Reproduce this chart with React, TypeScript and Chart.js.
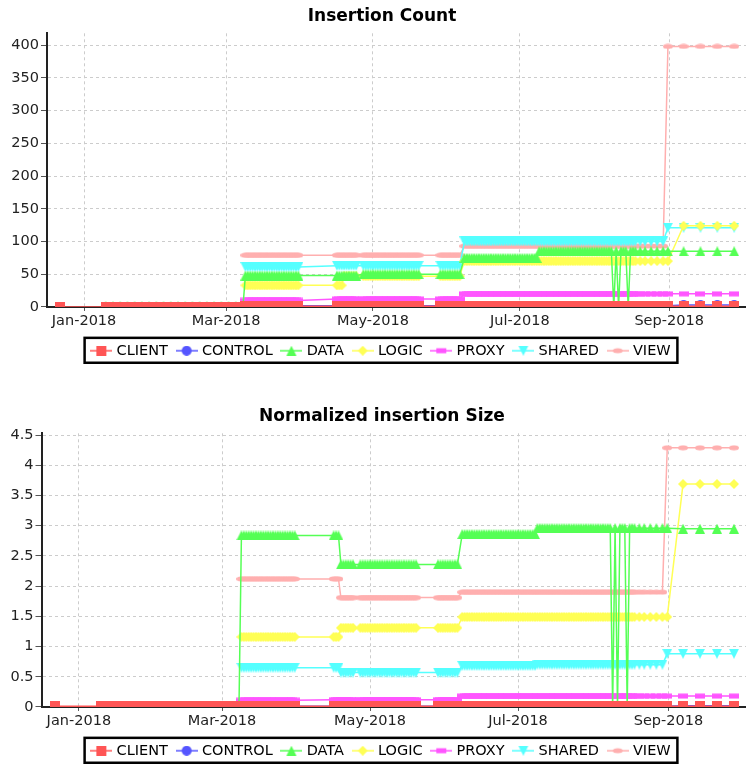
import React, { useEffect, useRef } from "react";
import { Chart, registerables } from "chart.js";

Chart.register(...registerables);

const FONT = "'DejaVu Sans', sans-serif";

const SERIES_NAMES = ["CLIENT", "CONTROL", "DATA", "LOGIC", "PROXY", "SHARED", "VIEW"];
const SERIES_COLORS = ["#FF5555", "#5555FF", "#55FF55", "#FFFF55", "#FF55FF", "#55FFFF", "#FFAFAF"];
const SERIES_SHAPES = ["square", "circle", "triangleUp", "diamond", "hRect", "triangleDown", "hEllipse"];

// sample dates, in days since 2018-01-01
const DAYS = [
  -10,
  9, 12, 15, 18, 21, 24, 27, 30, 33, 36, 39, 42, 45, 48, 51, 54, 57, 60, 63, 66,
  67, 68, 69, 70, 71, 72, 73, 74, 75, 76, 77, 78, 79, 80, 81, 82, 83, 84, 85, 86, 87, 88, 89,
  105, 106, 107, 108, 109, 110, 111, 112, 113,
  116, 117, 118, 119, 120, 121, 122, 123, 124, 125, 126, 127, 128, 129, 130, 131, 132, 133, 134, 135, 136, 137, 138, 139,
  148, 149, 150, 151, 152, 153, 154, 155, 156,
  158, 159, 160, 161, 162, 163, 164, 165, 166, 167, 168, 169, 170, 171, 172, 173, 174, 175, 176, 177, 178, 179, 180, 181, 182, 183, 184, 185, 186, 187, 188,
  189, 190, 191, 192, 193, 194, 195, 196, 197, 198, 199, 200, 201, 202, 203, 204, 205, 206, 207, 208, 209, 210, 211, 212, 213, 214, 215, 216, 217, 218, 219, 220, 221, 222, 223, 224, 225, 226, 227, 228, 229,
  231, 233, 235.5, 238, 240.5, 242.5,
  249, 256, 263, 270,
];

const X_TICK_DAYS = [0, 59, 120, 181, 243];
const X_TICK_LABELS = ["Jan-2018", "Mar-2018", "May-2018", "Jul-2018", "Sep-2018"];
const COUNT_TICKS = [0, 50, 100, 150, 200, 250, 300, 350, 400];
const SIZE_TICKS = [0, 0.5, 1, 1.5, 2, 2.5, 3, 3.5, 4, 4.5];

const N = null;

// ---------- Insertion Count ----------
const CLIENT_COUNT = [
  0,
  0,0,0,0,0,0,0,0,0,0, 0,0,0,0,0,0,0,0,0,0,
  1,1,1,1,1,1,1,1,1,1, 1,1,1,1,1,1,1,1,1,1, 1,1,1,
  1,1,1,1,1,1,1,1,1,
  1,1,1,1,1,1,1,1,1,1, 1,1,1,1,1,1,1,1,1,1, 1,1,1,1,
  1,1,1,1,1,1,1,1,1,
  1,1,1,1,1,1,1,1,1,1, 1,1,1,1,1,1,1,1,1,1, 1,1,1,1,1,1,1,1,1,1, 1,
  1,1,1,1,1,1,1,1,1,1, 1,1,1,1,1,1,1,1,1,1, 1,1,1,1,1,1,1,1,1,1, 1,1,1,1,1,1,1,1,1,1, 1,
  1,1,1,1,1,1,
  1,1,1,1,
];
const CONTROL_COUNT = [
  N,
  N,N,N,N,N,N,N,N,N,N, N,N,N,N,N,N,N,N,N,N,
  2,2,2,2,2,2,2,2,2,2, 2,2,2,2,2,2,2,2,2,2, 2,2,2,
  2,2,2,2,2,2,2,2,2,
  2,2,2,2,2,2,2,2,2,2, 2,2,2,2,2,2,2,2,2,2, 2,2,2,2,
  2,2,2,2,2,2,2,2,2,
  2,2,2,2,2,2,2,2,2,2, 2,2,2,2,2,2,2,2,2,2, 2,2,2,2,2,2,2,2,2,2, 2,
  2,2,2,2,2,2,2,2,2,2, 2,2,2,2,2,2,2,2,2,2, 2,2,2,2,2,2,2,2,2,2, 2,2,2,2,2,2,2,2,2,2, 2,
  2,2,2,2,2,2,
  3,3,3,3,
];
const DATA_COUNT = [
  N,
  1,1,1,1,1,1,1,1,1,1, 1,1,1,1,1,1,1,1,1,1,
  48,48,48,48,48,48,48,48,48,48, 48,48,48,48,48,48,48,48,48,48, 48,48,48,
  48,48,48,48,48,48,48,48,48,
  50,50,50,50,50,50,50,50,50,50, 50,50,50,50,50,50,50,50,50,50, 50,50,50,50,
  50,50,50,50,50,50,50,50,50,
  75,75,75,75,75,75,75,75,75,75, 75,75,75,75,75,75,75,75,75,75, 75,75,75,75,75,75,75,75,75,75, 75,
  85,85,85,85,85,85,85,85,85,85, 85,85,85,85,85,85,85,85,85,85, 85,85,85,85,85,85,85,85,85,85, 85,0,85,0,85,85,85,0,85,85, 85,
  85,85,85,85,85,85,
  85,85,85,85,
];
const LOGIC_COUNT = [
  N,
  N,N,N,N,N,N,N,N,N,N, N,N,N,N,N,N,N,N,N,N,
  33,33,33,33,33,33,33,33,33,33, 33,33,33,33,33,33,33,33,33,33, 33,33,33,
  33,33,33,47,47,47,47,47,47,
  47,47,47,47,47,47,47,47,47,47, 47,47,47,47,47,47,47,47,47,47, 47,47,47,47,
  47,47,47,47,47,47,47,47,47,
  70,70,70,70,70,70,70,70,70,70, 70,70,70,70,70,70,70,70,70,70, 70,70,70,70,70,70,70,70,70,70, 70,
  70,70,70,70,70,70,70,70,70,70, 70,70,70,70,70,70,70,70,70,70, 70,70,70,70,70,70,70,70,70,70, 70,70,70,70,70,70,70,70,70,70, 70,
  70,70,70,70,70,70,
  124,124,124,124,
];
const PROXY_COUNT = [
  N,
  N,N,N,N,N,N,N,N,N,N, N,N,N,N,N,N,N,N,N,N,
  10,10,10,10,10,10,10,10,10,10, 10,10,10,10,10,10,10,10,10,10, 10,10,10,
  12,12,12,12,12,12,12,12,12,
  12,12,12,12,12,12,12,12,12,12, 12,12,12,12,12,12,12,12,12,12, 12,12,12,12,
  12,12,12,12,12,12,12,12,12,
  20,20,20,20,20,20,20,20,20,20, 20,20,20,20,20,20,20,20,20,20, 20,20,20,20,20,20,20,20,20,20, 20,
  20,20,20,20,20,20,20,20,20,20, 20,20,20,20,20,20,20,20,20,20, 20,20,20,20,20,20,20,20,20,20, 20,20,20,20,20,20,20,20,20,20, 20,
  20,20,20,20,20,20,
  20,20,20,20,
];
const SHARED_COUNT = [
  N,
  N,N,N,N,N,N,N,N,N,N, N,N,N,N,N,N,N,N,N,N,
  61,61,61,61,61,61,61,61,61,61, 61,61,61,61,61,61,61,61,61,61, 61,61,61,
  63,63,63,63,63,63,63,63,63,
  63,63,63,63,63,63,63,63,63,63, 63,63,63,63,63,63,63,63,63,63, 63,63,63,63,
  63,63,63,63,63,63,63,63,63,
  100,100,100,100,100,100,100,100,100,100, 100,100,100,100,100,100,100,100,100,100, 100,100,100,100,100,100,100,100,100,100, 100,
  100,100,100,100,100,100,100,100,100,100, 100,100,100,100,100,100,100,100,100,100, 100,100,100,100,100,100,100,100,100,100, 100,100,100,100,100,100,100,100,100,100, 100,
  100,100,100,100,100,121,
  121,121,121,121,
];
const VIEW_COUNT = [
  N,
  N,N,N,N,N,N,N,N,N,N, N,N,N,N,N,N,N,N,N,N,
  79,79,79,79,79,79,79,79,79,79, 79,79,79,79,79,79,79,79,79,79, 79,79,79,
  79,79,79,79,79,79,79,79,79,
  79,79,79,79,79,79,79,79,79,79, 79,79,79,79,79,79,79,79,79,79, 79,79,79,79,
  79,79,79,79,79,79,79,79,79,
  93,93,93,93,93,93,93,93,93,93, 93,93,93,93,93,93,93,93,93,93, 93,93,93,93,93,93,93,93,93,93, 93,
  93,93,93,93,93,93,93,93,93,93, 93,93,93,93,93,93,93,93,93,93, 93,93,93,93,93,93,93,93,93,93, 93,93,93,93,93,93,93,93,93,93, 93,
  93,93,93,93,93,398,
  398,398,398,398,
];

// ---------- Normalized insertion Size ----------
const CLIENT_SIZE = [
  0.01,
  0.01,0.01,0.01,0.01,0.01,0.01,0.01,0.01,0.01,0.01, 0.01,0.01,0.01,0.01,0.01,0.01,0.01,0.01,0.01,0.01,
  0.01,0.01,0.01,0.01,0.01,0.01,0.01,0.01,0.01,0.01, 0.01,0.01,0.01,0.01,0.01,0.01,0.01,0.01,0.01,0.01, 0.01,0.01,0.01,
  0.01,0.01,0.01,0.01,0.01,0.01,0.01,0.01,0.01,
  0.01,0.01,0.01,0.01,0.01,0.01,0.01,0.01,0.01,0.01, 0.01,0.01,0.01,0.01,0.01,0.01,0.01,0.01,0.01,0.01, 0.01,0.01,0.01,0.01,
  0.01,0.01,0.01,0.01,0.01,0.01,0.01,0.01,0.01,
  0.01,0.01,0.01,0.01,0.01,0.01,0.01,0.01,0.01,0.01, 0.01,0.01,0.01,0.01,0.01,0.01,0.01,0.01,0.01,0.01, 0.01,0.01,0.01,0.01,0.01,0.01,0.01,0.01,0.01,0.01, 0.01,
  0.01,0.01,0.01,0.01,0.01,0.01,0.01,0.01,0.01,0.01, 0.01,0.01,0.01,0.01,0.01,0.01,0.01,0.01,0.01,0.01, 0.01,0.01,0.01,0.01,0.01,0.01,0.01,0.01,0.01,0.01, 0.01,0.01,0.01,0.01,0.01,0.01,0.01,0.01,0.01,0.01, 0.01,
  0.01,0.01,0.01,0.01,0.01,0.01,
  0.01,0.01,0.01,0.01,
];
const CONTROL_SIZE = [
  N,
  N,N,N,N,N,N,N,N,N,N, N,N,N,N,N,N,N,N,N,N,
  0.01,0.01,0.01,0.01,0.01,0.01,0.01,0.01,0.01,0.01, 0.01,0.01,0.01,0.01,0.01,0.01,0.01,0.01,0.01,0.01, 0.01,0.01,0.01,
  0.01,0.01,0.01,0.01,0.01,0.01,0.01,0.01,0.01,
  0.01,0.01,0.01,0.01,0.01,0.01,0.01,0.01,0.01,0.01, 0.01,0.01,0.01,0.01,0.01,0.01,0.01,0.01,0.01,0.01, 0.01,0.01,0.01,0.01,
  0.01,0.01,0.01,0.01,0.01,0.01,0.01,0.01,0.01,
  0.01,0.01,0.01,0.01,0.01,0.01,0.01,0.01,0.01,0.01, 0.01,0.01,0.01,0.01,0.01,0.01,0.01,0.01,0.01,0.01, 0.01,0.01,0.01,0.01,0.01,0.01,0.01,0.01,0.01,0.01, 0.01,
  0.01,0.01,0.01,0.01,0.01,0.01,0.01,0.01,0.01,0.01, 0.01,0.01,0.01,0.01,0.01,0.01,0.01,0.01,0.01,0.01, 0.01,0.01,0.01,0.01,0.01,0.01,0.01,0.01,0.01,0.01, 0.01,0.01,0.01,0.01,0.01,0.01,0.01,0.01,0.01,0.01, 0.01,
  0.01,0.01,0.01,0.01,0.01,0.01,
  0.02,0.02,0.02,0.02,
];
const DATA_SIZE = [
  N,
  0.02,0.02,0.02,0.02,0.02,0.02,0.02,0.02,0.02,0.02, 0.02,0.02,0.02,0.02,0.02,0.02,0.02,0.02,0.02,0.02,
  2.84,2.84,2.84,2.84,2.84,2.84,2.84,2.84,2.84,2.84, 2.84,2.84,2.84,2.84,2.84,2.84,2.84,2.84,2.84,2.84, 2.84,2.84,2.84,
  2.84,2.84,2.84,2.36,2.36,2.36,2.36,2.36,2.36,
  2.36,2.36,2.36,2.36,2.36,2.36,2.36,2.36,2.36,2.36, 2.36,2.36,2.36,2.36,2.36,2.36,2.36,2.36,2.36,2.36, 2.36,2.36,2.36,2.36,
  2.36,2.36,2.36,2.36,2.36,2.36,2.36,2.36,2.36,
  2.86,2.86,2.86,2.86,2.86,2.86,2.86,2.86,2.86,2.86, 2.86,2.86,2.86,2.86,2.86,2.86,2.86,2.86,2.86,2.86, 2.86,2.86,2.86,2.86,2.86,2.86,2.86,2.86,2.86,2.86, 2.86,
  2.96,2.96,2.96,2.96,2.96,2.96,2.96,2.96,2.96,2.96, 2.96,2.96,2.96,2.96,2.96,2.96,2.96,2.96,2.96,2.96, 2.96,2.96,2.96,2.96,2.96,2.96,2.96,2.96,2.96,2.96, 2.96,0,2.96,0,2.96,2.96,2.96,0,2.96,2.96, 2.96,
  2.96,2.96,2.96,2.96,2.96,2.96,
  2.95,2.95,2.95,2.95,
];
const LOGIC_SIZE = [
  N,
  N,N,N,N,N,N,N,N,N,N, N,N,N,N,N,N,N,N,N,N,
  1.16,1.16,1.16,1.16,1.16,1.16,1.16,1.16,1.16,1.16, 1.16,1.16,1.16,1.16,1.16,1.16,1.16,1.16,1.16,1.16, 1.16,1.16,1.16,
  1.16,1.16,1.16,1.31,1.31,1.31,1.31,1.31,1.31,
  1.31,1.31,1.31,1.31,1.31,1.31,1.31,1.31,1.31,1.31, 1.31,1.31,1.31,1.31,1.31,1.31,1.31,1.31,1.31,1.31, 1.31,1.31,1.31,1.31,
  1.31,1.31,1.31,1.31,1.31,1.31,1.31,1.31,1.31,
  1.49,1.49,1.49,1.49,1.49,1.49,1.49,1.49,1.49,1.49, 1.49,1.49,1.49,1.49,1.49,1.49,1.49,1.49,1.49,1.49, 1.49,1.49,1.49,1.49,1.49,1.49,1.49,1.49,1.49,1.49, 1.49,
  1.49,1.49,1.49,1.49,1.49,1.49,1.49,1.49,1.49,1.49, 1.49,1.49,1.49,1.49,1.49,1.49,1.49,1.49,1.49,1.49, 1.49,1.49,1.49,1.49,1.49,1.49,1.49,1.49,1.49,1.49, 1.49,1.49,1.49,1.49,1.49,1.49,1.49,1.49,1.49,1.49, 1.49,
  1.49,1.49,1.49,1.49,1.49,1.49,
  3.69,3.69,3.69,3.69,
];
const PROXY_SIZE = [
  N,
  N,N,N,N,N,N,N,N,N,N, N,N,N,N,N,N,N,N,N,N,
  0.11,0.11,0.11,0.11,0.11,0.11,0.11,0.11,0.11,0.11, 0.11,0.11,0.11,0.11,0.11,0.11,0.11,0.11,0.11,0.11, 0.11,0.11,0.11,
  0.12,0.12,0.12,0.12,0.12,0.12,0.12,0.12,0.12,
  0.12,0.12,0.12,0.12,0.12,0.12,0.12,0.12,0.12,0.12, 0.12,0.12,0.12,0.12,0.12,0.12,0.12,0.12,0.12,0.12, 0.12,0.12,0.12,0.12,
  0.12,0.12,0.12,0.12,0.12,0.12,0.12,0.12,0.12,
  0.18,0.18,0.18,0.18,0.18,0.18,0.18,0.18,0.18,0.18, 0.18,0.18,0.18,0.18,0.18,0.18,0.18,0.18,0.18,0.18, 0.18,0.18,0.18,0.18,0.18,0.18,0.18,0.18,0.18,0.18, 0.18,
  0.18,0.18,0.18,0.18,0.18,0.18,0.18,0.18,0.18,0.18, 0.18,0.18,0.18,0.18,0.18,0.18,0.18,0.18,0.18,0.18, 0.18,0.18,0.18,0.18,0.18,0.18,0.18,0.18,0.18,0.18, 0.18,0.18,0.18,0.18,0.18,0.18,0.18,0.18,0.18,0.18, 0.18,
  0.18,0.18,0.18,0.18,0.18,0.18,
  0.18,0.18,0.18,0.18,
];
const SHARED_SIZE = [
  N,
  N,N,N,N,N,N,N,N,N,N, N,N,N,N,N,N,N,N,N,N,
  0.65,0.65,0.65,0.65,0.65,0.65,0.65,0.65,0.65,0.65, 0.65,0.65,0.65,0.65,0.65,0.65,0.65,0.65,0.65,0.65, 0.65,0.65,0.65,
  0.65,0.65,0.65,0.57,0.57,0.57,0.57,0.57,0.57,
  0.57,0.57,0.57,0.57,0.57,0.57,0.57,0.57,0.57,0.57, 0.57,0.57,0.57,0.57,0.57,0.57,0.57,0.57,0.57,0.57, 0.57,0.57,0.57,0.57,
  0.57,0.57,0.57,0.57,0.57,0.57,0.57,0.57,0.57,
  0.68,0.68,0.68,0.68,0.68,0.68,0.68,0.68,0.68,0.68, 0.68,0.68,0.68,0.68,0.68,0.68,0.68,0.68,0.68,0.68, 0.68,0.68,0.68,0.68,0.68,0.68,0.68,0.68,0.68,0.68, 0.68,
  0.7,0.7,0.7,0.7,0.7,0.7,0.7,0.7,0.7,0.7, 0.7,0.7,0.7,0.7,0.7,0.7,0.7,0.7,0.7,0.7, 0.7,0.7,0.7,0.7,0.7,0.7,0.7,0.7,0.7,0.7, 0.7,0.7,0.7,0.7,0.7,0.7,0.7,0.7,0.7,0.7, 0.7,
  0.7,0.7,0.7,0.7,0.7,0.88,
  0.88,0.88,0.88,0.88,
];
const VIEW_SIZE = [
  N,
  N,N,N,N,N,N,N,N,N,N, N,N,N,N,N,N,N,N,N,N,
  2.12,2.12,2.12,2.12,2.12,2.12,2.12,2.12,2.12,2.12, 2.12,2.12,2.12,2.12,2.12,2.12,2.12,2.12,2.12,2.12, 2.12,2.12,2.12,
  2.12,2.12,2.12,1.81,1.81,1.81,1.81,1.81,1.81,
  1.81,1.81,1.81,1.81,1.81,1.81,1.81,1.81,1.81,1.81, 1.81,1.81,1.81,1.81,1.81,1.81,1.81,1.81,1.81,1.81, 1.81,1.81,1.81,1.81,
  1.81,1.81,1.81,1.81,1.81,1.81,1.81,1.81,1.81,
  1.9,1.9,1.9,1.9,1.9,1.9,1.9,1.9,1.9,1.9, 1.9,1.9,1.9,1.9,1.9,1.9,1.9,1.9,1.9,1.9, 1.9,1.9,1.9,1.9,1.9,1.9,1.9,1.9,1.9,1.9, 1.9,
  1.9,1.9,1.9,1.9,1.9,1.9,1.9,1.9,1.9,1.9, 1.9,1.9,1.9,1.9,1.9,1.9,1.9,1.9,1.9,1.9, 1.9,1.9,1.9,1.9,1.9,1.9,1.9,1.9,1.9,1.9, 1.9,1.9,1.9,1.9,1.9,1.9,1.9,1.9,1.9,1.9, 1.9,
  1.9,1.9,1.9,1.9,1.9,4.29,
  4.29,4.29,4.29,4.29,
];

const COUNT_SERIES = [CLIENT_COUNT, CONTROL_COUNT, DATA_COUNT, LOGIC_COUNT, PROXY_COUNT, SHARED_COUNT, VIEW_COUNT];
const SIZE_SERIES = [CLIENT_SIZE, CONTROL_SIZE, DATA_SIZE, LOGIC_SIZE, PROXY_SIZE, SHARED_SIZE, VIEW_SIZE];

[...COUNT_SERIES, ...SIZE_SERIES].forEach((arr, k) => {
  if (arr.length !== DAYS.length) {
    throw new Error("series " + k + " has " + arr.length + " values, expected " + DAYS.length);
  }
});

const X_MIN = -15.4;
const X_MAX = 279.7;
const CANVAS_W = 764;
const CANVAS_H = 368;

function shapeCanvas(kind: string, color: string): HTMLCanvasElement {
  const flat = kind === "hRect" || kind === "hEllipse";
  const c = document.createElement("canvas");
  c.width = 10;
  c.height = flat ? 6 : 10;
  const g = c.getContext("2d")!;
  g.fillStyle = color;
  g.beginPath();
  switch (kind) {
    case "square": g.rect(0, 0, 10, 10); break;
    case "circle": g.arc(5, 5, 5, 0, Math.PI * 2); break;
    case "triangleUp": g.moveTo(5, 0); g.lineTo(10, 10); g.lineTo(0, 10); g.closePath(); break;
    case "diamond": g.moveTo(5, 0); g.lineTo(10, 5); g.lineTo(5, 10); g.lineTo(0, 5); g.closePath(); break;
    case "hRect": g.rect(0, 0.5, 10, 5); break;
    case "triangleDown": g.moveTo(0, 0); g.lineTo(10, 0); g.lineTo(5, 10); g.closePath(); break;
    case "hEllipse": g.ellipse(5, 3, 5, 2.5, 0, 0, Math.PI * 2); break;
  }
  g.fill();
  return c;
}

function legendSymbol(shape: HTMLCanvasElement, color: string): HTMLCanvasElement {
  const c = document.createElement("canvas");
  c.width = 22;
  c.height = 10;
  const g = c.getContext("2d")!;
  g.fillStyle = color;
  g.fillRect(0, 4.25, 22, 1.5);
  g.drawImage(shape, 11 - shape.width / 2, 5 - shape.height / 2);
  return c;
}

const legendBoxPlugin = {
  id: "legendBox",
  afterDraw(chart: any) {
    const hb = chart.legend && chart.legend.legendHitBoxes;
    if (!hb || !hb.length) return;
    const first = hb[0];
    const last = hb[hb.length - 1];
    const cy = first.top + first.height / 2;
    const ctx = chart.ctx;
    ctx.save();
    ctx.strokeStyle = "#000";
    ctx.lineWidth = 2.5;
    const left = first.left - 8.75;
    const right = last.left + last.width + 6.75;
    const top = cy - 12.9;
    const bottom = cy + 12;
    ctx.strokeRect(left, top, right - left, bottom - top);
    ctx.restore();
  },
};

function buildConfig(title: string, series: (number | null)[][], yMax: number, yTicks: number[], yWidth: number) {
  const shapes = SERIES_SHAPES.map((k, i) => shapeCanvas(k, SERIES_COLORS[i]));
  const symbols = shapes.map((s, i) => legendSymbol(s, SERIES_COLORS[i]));
  const tickFont = { family: FONT, size: 14.5 };
  const gridOpts = {
    color: "#cccccc",
    lineWidth: 1,
    tickColor: "#555",
    tickBorderDash: [],
  };
  return {
    type: "line" as const,
    data: {
      datasets: SERIES_NAMES.map((name, i) => ({
        label: name,
        data: DAYS.map((d, j) => ({ x: d, y: series[i][j] })).filter((p) => p.y !== null),
        borderColor: SERIES_COLORS[i],
        backgroundColor: SERIES_COLORS[i],
        borderWidth: 1.5,
        pointStyle: shapes[i],
        pointRadius: 5,
        pointHoverRadius: 5,
        tension: 0,
        fill: false,
      })),
    },
    options: {
      responsive: false,
      animation: false,
      devicePixelRatio: 1,
      events: [],
      layout: { padding: 0 },
      plugins: {
        title: {
          display: true,
          text: title,
          color: "#000",
          font: { family: FONT, size: 17, weight: "bold" },
          padding: { top: 6.1, bottom: 6.8 },
        },
        legend: {
          position: "bottom",
          labels: {
            usePointStyle: true,
            pointStyleWidth: 16,
            padding: 10.7,
            color: "#000",
            font: { family: FONT, size: 14.5 },
            generateLabels: () =>
              SERIES_NAMES.map((name, i) => ({
                text: name,
                fillStyle: SERIES_COLORS[i],
                strokeStyle: SERIES_COLORS[i],
                lineWidth: 0,
                pointStyle: symbols[i],
                hidden: false,
                datasetIndex: i,
              })),
          },
        },
        tooltip: { enabled: false },
      },
      scales: {
        x: {
          type: "linear",
          min: X_MIN,
          max: X_MAX,
          afterBuildTicks: (s: any) => {
            s.ticks = X_TICK_DAYS.map((v) => ({ value: v }));
          },
          afterFit: (s: any) => {
            s.height = 25.85;
          },
          ticks: {
            autoSkip: false,
            maxRotation: 0,
            padding: 1.3,
            color: "#222",
            font: tickFont,
            callback: (v: any) => {
              const k = X_TICK_DAYS.indexOf(Number(v));
              return k >= 0 ? X_TICK_LABELS[k] : "";
            },
          },
          grid: { ...gridOpts, tickLength: 4 },
          border: { color: "#222", width: 2, dash: [3, 3] },
        },
        y: {
          type: "linear",
          min: 0,
          max: yMax,
          afterBuildTicks: (s: any) => {
            s.ticks = yTicks.map((v) => ({ value: v }));
          },
          afterFit: (s: any) => {
            s.width = yWidth;
          },
          ticks: {
            padding: 2,
            color: "#222",
            font: tickFont,
            callback: (v: any) => String(v),
          },
          grid: { ...gridOpts, tickLength: 6 },
          border: { color: "#222", width: 2, dash: [3, 3] },
        },
      },
    },
    plugins: [legendBoxPlugin],
  };
}

function ChartPanel(props: { top: number; make: () => any }) {
  const ref = useRef<HTMLCanvasElement>(null);
  useEffect(() => {
    if (!ref.current) return;
    const chart = new Chart(ref.current, props.make());
    return () => chart.destroy();
  }, []);
  return (
    <canvas
      ref={ref}
      width={CANVAS_W}
      height={CANVAS_H}
      style={{ position: "absolute", left: 0, top: props.top, width: CANVAS_W, height: CANVAS_H, display: "block" }}
    />
  );
}

export default function App() {
  return (
    <div
      style={{
        position: "fixed",
        left: 0,
        top: 0,
        width: 746,
        height: 764,
        overflow: "hidden",
        background: "#fff",
      }}
    >
      <ChartPanel top={0} make={() => buildConfig("Insertion Count", COUNT_SERIES, 418, COUNT_TICKS, 47)} />
      <ChartPanel top={400} make={() => buildConfig("Normalized insertion Size", SIZE_SERIES, 4.53, SIZE_TICKS, 41.5)} />
    </div>
  );
}
